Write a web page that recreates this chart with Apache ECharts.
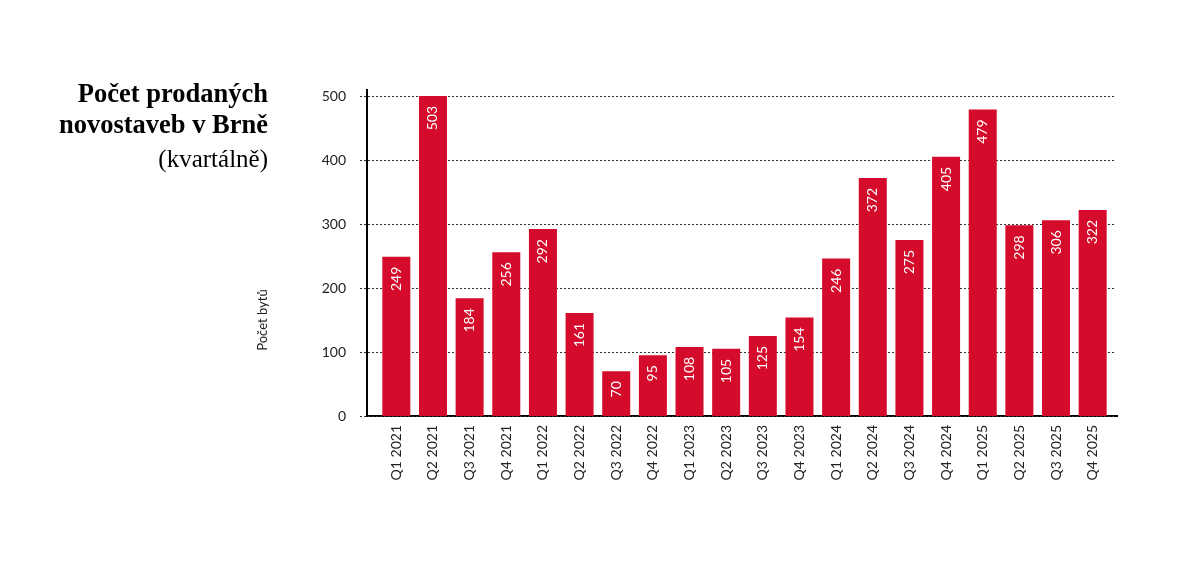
<!DOCTYPE html>
<html>
<head>
<meta charset="utf-8">
<script src="https://cdn.jsdelivr.net/npm/echarts@6/dist/echarts.min.js"></script>
<style>
  html, body { margin: 0; padding: 0; background: #fff; }
  #chart { width: 1200px; height: 566px; }
</style>
</head>
<body>
<div id="chart"></div>
<script>
// data
const quarters = ['Q1 2021', 'Q2 2021', 'Q3 2021', 'Q4 2021', 'Q1 2022', 'Q2 2022', 'Q3 2022', 'Q4 2022',
    'Q1 2023', 'Q2 2023', 'Q3 2023', 'Q4 2023', 'Q1 2024', 'Q2 2024', 'Q3 2024', 'Q4 2024',
    'Q1 2025', 'Q2 2025', 'Q3 2025', 'Q4 2025'];
const soldFlats = [249, 503, 184, 256, 292, 161, 70, 95, 108, 105, 125, 154, 246, 372, 275, 405, 479, 298, 306, 322];
const yTicks = { min: 0, max: 500, interval: 100 };

const red = '#d50b2b';
const sans = 'Lato';
const serif = 'Liberation Serif';

const chart = echarts.init(document.getElementById('chart'));

chart.setOption({
    backgroundColor: '#fff',
    animation: false,
    title: {
        text: 'Počet prodaných\nnovostaveb v Brně',
        subtext: '(kvartálně)',
        left: 268,
        top: 80,
        textAlign: 'right',
        itemGap: 4,
        padding: 0,
        textStyle: {
            fontFamily: serif,
            fontWeight: 'bold',
            fontSize: 26.5,
            lineHeight: 31,
            color: '#000'
        },
        subtextStyle: {
            fontFamily: serif,
            fontSize: 25,
            lineHeight: 29,
            color: '#000'
        }
    },
    grid: [
        // grid for gridlines and y labels
        { left: 360, right: 85, top: 96, bottom: 150 },
        // grid for bars
        { left: 378, right: 89, top: 96, bottom: 150 }
    ],
    xAxis: [
        { type: 'value', gridIndex: 0, show: false },
        {
            type: 'category',
            gridIndex: 1,
            data: quarters,
            axisLine: { show: false },
            axisTick: { show: false },
            axisLabel: {
                rotate: 90,
                margin: 9,
                interval: 0,
                fontFamily: sans,
                fontSize: 14,
                color: '#222'
            }
        }
    ],
    yAxis: [
        {
            type: 'value',
            gridIndex: 0,
            min: yTicks.min,
            max: yTicks.max,
            interval: yTicks.interval,
            axisLine: { show: false },
            axisTick: { show: false },
            axisLabel: {
                margin: 14,
                fontFamily: sans,
                fontSize: 14,
                color: '#222'
            },
            splitLine: {
                lineStyle: { color: '#333', type: [2, 2], width: 1 }
            }
        },
        {
            type: 'value',
            gridIndex: 1,
            min: yTicks.min,
            max: yTicks.max,
            show: false
        }
    ],
    series: [{
        type: 'bar',
        xAxisIndex: 1,
        yAxisIndex: 1,
        data: soldFlats,
        barWidth: 28,
        itemStyle: { color: red },
        label: {
            show: true,
            position: 'insideTop',
            rotate: 90,
            align: 'right',
            verticalAlign: 'middle',
            distance: 10,
            fontFamily: sans,
            fontSize: 14,
            color: '#fff'
        }
    }],
    graphic: [
        // osa y
        {
            type: 'line',
            shape: { x1: 367, y1: 89, x2: 367, y2: 417 },
            style: { stroke: '#000', lineWidth: 2 }
        },
        // osa x
        {
            type: 'line',
            shape: { x1: 366, y1: 416, x2: 1118, y2: 416 },
            style: { stroke: '#000', lineWidth: 2 }
        },
        {
            type: 'text',
            x: 263,
            y: 320,
            rotation: Math.PI / 2,
            style: {
                text: 'Počet bytů',
                fontFamily: sans,
                fontSize: 13,
                fill: '#222',
                align: 'center',
                verticalAlign: 'middle'
            }
        }
    ]
});
</script>
</body>
</html>
